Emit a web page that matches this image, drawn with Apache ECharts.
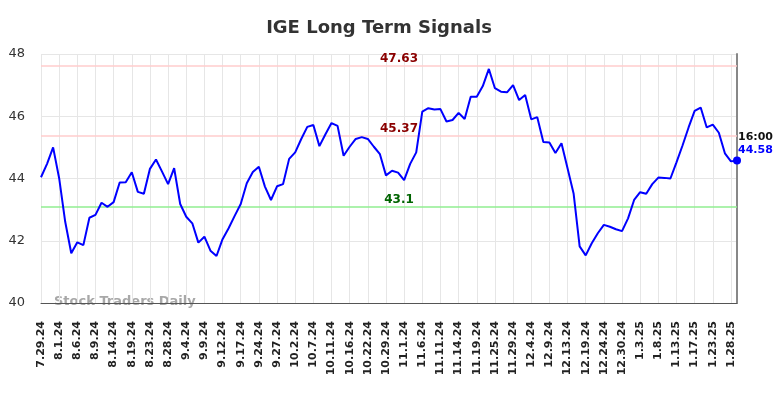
<!DOCTYPE html>
<html>
<head>
<meta charset="utf-8">
<title>IGE Long Term Signals</title>
<script src="https://cdn.jsdelivr.net/npm/echarts@6/dist/echarts.min.js"></script>
<style>
  html, body { margin: 0; padding: 0; background: #fff; }
  #main { width: 784px; height: 398px; }
</style>
</head>
<body>
<div id="main"></div>
<script>
// tick labels, one every 3 points
var tickLabels = ['7.29.24', '8.1.24', '8.6.24', '8.9.24', '8.14.24', '8.19.24', '8.23.24', '8.28.24',
  '9.4.24', '9.9.24', '9.12.24', '9.17.24', '9.24.24', '9.27.24', '10.2.24', '10.7.24', '10.11.24',
  '10.16.24', '10.22.24', '10.29.24', '11.1.24', '11.6.24', '11.11.24', '11.14.24', '11.19.24',
  '11.25.24', '11.29.24', '12.4.24', '12.9.24', '12.13.24', '12.19.24', '12.24.24', '12.30.24',
  '1.3.25', '1.8.25', '1.13.25', '1.17.25', '1.23.25', '1.28.25'];

// closing prices
var prices = [
  44.04, 44.47, 45.00, 44.01, 42.61, 41.60, 41.95, 41.86, 42.74, 42.83,
  43.22, 43.09, 43.24, 43.87, 43.88, 44.20, 43.57, 43.51, 44.31, 44.61,
  44.22, 43.82, 44.33, 43.18, 42.77, 42.56, 41.94, 42.13, 41.68, 41.51,
  42.05, 42.40, 42.80, 43.18, 43.85, 44.21, 44.38, 43.74, 43.31, 43.75,
  43.82, 44.63, 44.84, 45.27, 45.66, 45.72, 45.04, 45.42, 45.78, 45.69,
  44.73, 45.02, 45.27, 45.33, 45.27, 45.02, 44.78, 44.10, 44.25, 44.19,
  43.95, 44.47, 44.84, 46.15, 46.26, 46.22, 46.23, 45.83, 45.88, 46.11,
  45.91, 46.63, 46.63, 46.97, 47.52, 46.90, 46.79, 46.77, 47.00, 46.52,
  46.68, 45.90, 45.97, 45.17, 45.16, 44.82, 45.13, 44.33, 43.52, 41.82,
  41.53, 41.92, 42.24, 42.51, 42.45, 42.37, 42.31, 42.72, 43.31, 43.56,
  43.51, 43.82, 44.03, 44.02, 44.00, 44.52, 45.06, 45.64, 46.17, 46.28,
  45.64, 45.73, 45.47, 44.81, 44.55, 44.58
];

// signal levels
var resistanceHigh = 47.63;
var resistanceLow = 45.37;
var support = 43.1;
var lastTime = '16:00';

var seriesData = prices.map(function (v, i) {
  if (i === prices.length - 1) {
    return {
      value: [i, v],
      symbol: 'circle',
      symbolSize: 8,
      label: {
        show: true,
        position: [5, -26],
        align: 'left',
        verticalAlign: 'top',
        formatter: '{t|' + lastTime + '}\n{v|' + v.toFixed(2) + '}',
        rich: {
          t: { color: '#111', fontWeight: 'bold', fontSize: 11, lineHeight: 13, fontFamily: 'DejaVu Sans' },
          v: { color: '#0000ff', fontWeight: 'bold', fontSize: 11, lineHeight: 13, fontFamily: 'DejaVu Sans' }
        }
      }
    };
  }
  return { value: [i, v], symbol: 'none' };
});

function signalLine(val, lineColor, textColor) {
  return {
    yAxis: val,
    lineStyle: { color: lineColor, width: 1.5, type: 'solid' },
    label: {
      show: true,
      position: 'insideMiddleTop',
      distance: 1,
      padding: [0, 0, 0, 20],
      formatter: String(val),
      color: textColor,
      fontWeight: 'bold',
      fontSize: 12,
      fontFamily: 'DejaVu Sans'
    }
  };
}

var myChart = echarts.init(document.getElementById('main'));
myChart.setOption({
  animation: false,
  textStyle: { fontFamily: 'DejaVu Sans' },
  title: {
    text: 'IGE Long Term Signals',
    left: 374,
    top: 14,
    textAlign: 'center',
    textStyle: { fontSize: 18, fontWeight: 'bold', color: '#333', fontFamily: 'DejaVu Sans' }
  },
  grid: { left: 41, right: 47, top: 54, bottom: 95, containLabel: false },
  xAxis: {
    type: 'value',
    min: 0,
    max: prices.length - 1,
    interval: 3,
    axisLine: { show: true, onZero: false, lineStyle: { color: '#555', width: 1 } },
    axisTick: { show: false },
    splitLine: { show: true, lineStyle: { color: '#e6e6e6', width: 1 } },
    axisLabel: {
      rotate: 90,
      margin: 18,
      fontSize: 11,
      fontWeight: 'bold',
      color: '#222',
      formatter: function (v) {
        return v % 3 === 0 && tickLabels[v / 3] ? tickLabels[v / 3] : '';
      }
    }
  },
  yAxis: [{
    type: 'value',
    min: 40,
    max: 48,
    interval: 2,
    axisLine: { show: false },
    axisTick: { show: false },
    splitLine: { show: true, lineStyle: { color: '#e6e6e6', width: 1 } },
    axisLabel: { fontSize: 13, color: '#333', margin: 16 }
  }, {
    type: 'value',
    position: 'right',
    min: 40,
    max: 48,
    axisLine: { show: true, lineStyle: { color: '#888', width: 2 } },
    axisTick: { show: false },
    axisLabel: { show: false },
    splitLine: { show: false }
  }],
  graphic: [{
    type: 'text',
    left: 54,
    top: 295,
    z: 0,
    style: {
      text: 'Stock Traders Daily',
      font: 'bold 13px "DejaVu Sans"',
      fill: '#a8a8a8'
    }
  }],
  series: [{
    type: 'line',
    data: seriesData,
    lineStyle: { color: '#0000ff', width: 2 },
    itemStyle: { color: '#0000ff' },
    showSymbol: true,
    clip: false,
    z: 3,
    markLine: {
      silent: true,
      symbol: 'none',
      z: 2,
      data: [
        signalLine(resistanceHigh, '#ffcccc', '#8b0000'),
        signalLine(resistanceLow, '#ffcccc', '#8b0000'),
        signalLine(support, '#90ee90', '#006400')
      ]
    }
  }]
});
</script>
</body>
</html>
